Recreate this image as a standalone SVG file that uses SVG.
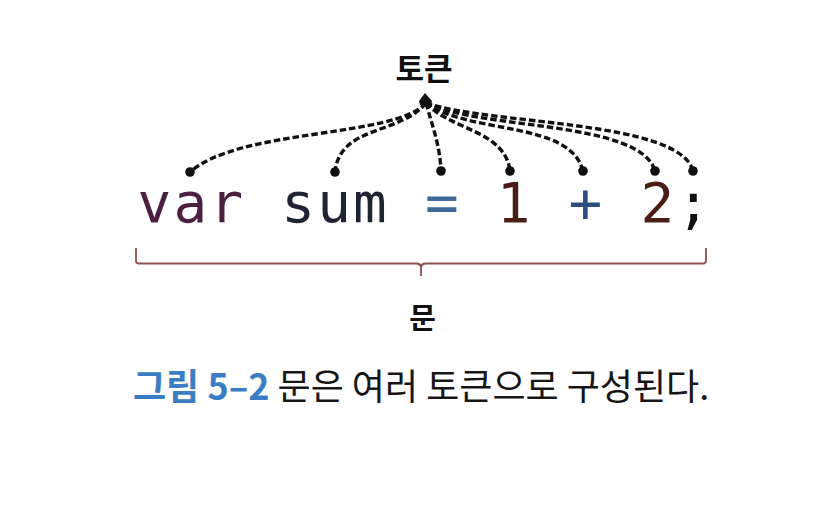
<svg xmlns="http://www.w3.org/2000/svg" width="834" height="505" viewBox="0 0 834 505">
  <style>
    .lbl { font-family: "Noto Sans CJK KR", "Noto Sans", sans-serif; font-weight: 700; fill: #111; }
    .code { font-family: "DejaVu Sans Mono", "Liberation Mono", monospace; font-size: 56px; letter-spacing: 2.2px; }
    .cap { font-family: "Noto Sans CJK KR", "Noto Sans", sans-serif; font-size: 36px; font-weight: 400; fill: #161616; }
    .dash { fill: none; stroke: #111; stroke-width: 3.4; stroke-dasharray: 6.5 3; }
    .dot { fill: #111; }
  </style>
  <rect width="834" height="505" fill="#ffffff"/>

  <g id="label-token">
    <text class="lbl" x="424" y="80" font-size="31" text-anchor="middle">토큰</text>
  </g>

  <g id="connectors">
    <path class="dash" d="M426,103 C395,138 240,128 190,172"/>
    <path class="dash" d="M426,103 C400,135 340,125 335,172"/>
    <path class="dash" d="M426,103 C432,125 440,145 441,171"/>
    <path class="dash" d="M426,103 C450,130 505,130 510,171"/>
    <path class="dash" d="M426,103 C470,135 570,120 583,171"/>
    <path class="dash" d="M426,103 C480,130 640,120 655,171"/>
    <path class="dash" d="M426,103 C490,125 680,120 693,171"/>
    <polygon fill="#111" points="425,93 432,101 431,105 420,105 419,101"/>
    <circle class="dot" cx="190" cy="172" r="4.8"/>
    <circle class="dot" cx="335" cy="172" r="4.8"/>
    <circle class="dot" cx="441" cy="171" r="4.8"/>
    <circle class="dot" cx="510" cy="171" r="4.8"/>
    <circle class="dot" cx="583" cy="171" r="4.8"/>
    <circle class="dot" cx="655" cy="171" r="4.8"/>
    <circle class="dot" cx="693" cy="171" r="4.8"/>
  </g>

  <g id="statement">
    <text class="code" x="137.6" y="222"><tspan fill="#4b2040">var</tspan><tspan fill="#1f2433"> sum </tspan><tspan fill="#3f6a9a">=</tspan><tspan> </tspan><tspan fill="#4a1e15">1</tspan><tspan> </tspan><tspan fill="#2b4e82">+</tspan><tspan> </tspan><tspan fill="#4a1e15">2</tspan><tspan fill="#111">;</tspan></text>
  </g>

  <g id="brace">
    <path fill="none" stroke="#8f4f4f" stroke-width="1.8" d="M136,248 V261 Q136,263.5 139,263.5 H416 Q421,263.5 421,268 V276 M421,268 Q421,263.5 426,263.5 H703 Q706,263.5 706,261 V248"/>
  </g>

  <g id="label-statement">
    <text class="lbl" x="422.5" y="329" font-size="29" text-anchor="middle">문</text>
  </g>

  <g id="caption">
    <text class="cap" x="133" y="400"><tspan fill="#3b7dc4" font-weight="700">그림 5–2</tspan> 문은 여러 토큰으로 구성된다.</text>
  </g>
</svg>
